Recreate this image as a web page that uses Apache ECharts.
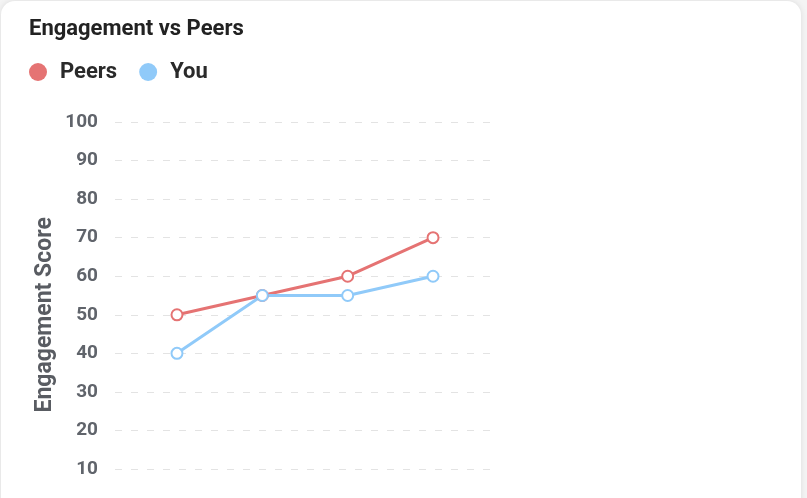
<!doctype html>
<html lang="en">
<head>
    <meta charset="UTF-8">
    <title>Engagement vs Peers</title>
    <script src="https://cdn.jsdelivr.net/npm/echarts@6/dist/echarts.min.js"></script>
    <style>
        html, body {margin: 0; padding: 0; overflow: hidden; background: #f4f4f4;}
        .card {position: absolute; left: 1px; top: 1px; width: 800px; height: 600px; background: #fff;
            border-radius: 14px; box-shadow: 0 0 6px rgba(0, 0, 0, 0.10);}
        #main {position: absolute; left: 0; top: 0; width: 807px; height: 560px;}
    </style>
</head>
<body>
<div class="card"></div>
<div id="main"></div>
<script type="text/javascript">
    // data
    var categories = ['Q1', 'Q2', 'Q3', 'Q4'];
    var peers = [50, 55, 60, 70];
    var you = [40, 55, 55, 60];
    var yTicks = {min: 0, max: 100, step: 10};

    var myChart = echarts.init(document.getElementById('main'));

    var font = 'Roboto, "Noto Sans", sans-serif';
    var labelGray = '#60646b';

    option = {
        animation: false,
        textStyle: {fontFamily: font},
        title: {
            text: 'Engagement vs Peers',
            left: 29,
            top: 18,
            padding: 0,
            textStyle: {fontFamily: font, fontSize: 22, fontWeight: 'bold', color: '#222'}
        },
        legend: {
            left: 29,
            top: 61,
            padding: 0,
            icon: 'circle',
            itemWidth: 34,
            itemHeight: 18,
            itemGap: 22,
            textStyle: {fontFamily: font, fontSize: 22, fontWeight: 'bold', color: '#2a2a2a'},
            data: ['Peers', 'You']
        },
        grid: [
            // the dashed score grid
            {left: 115, right: 317, top: 122, bottom: 52.4},
            // the lines, centred in their bands
            {left: 134.3, right: 331.3, top: 122, bottom: 52.4}
        ],
        xAxis: [
            {type: 'category', gridIndex: 0, data: categories, show: false},
            {
                type: 'category', gridIndex: 1, data: categories, boundaryGap: true,
                axisLine: {show: false}, axisTick: {show: false}, axisLabel: {show: false}
            }
        ],
        yAxis: [
            {
                type: 'value',
                gridIndex: 0,
                min: yTicks.min,
                max: yTicks.max,
                interval: yTicks.step,
                name: 'Engagement Score',
                nameLocation: 'middle',
                nameGap: 58,
                nameRotate: 90,
                nameTextStyle: {fontFamily: font, fontSize: 23, fontWeight: 'bold', color: '#595c62'},
                axisLine: {show: false},
                axisTick: {show: false},
                axisLabel: {margin: 17, fontFamily: font, fontSize: 19, fontWeight: 'bold', color: labelGray},
                splitLine: {lineStyle: {color: '#e3e3e3', width: 1, type: [7, 9]}}
            },
            {
                type: 'value', gridIndex: 1, min: yTicks.min, max: yTicks.max, interval: yTicks.step,
                show: false, splitLine: {show: false}
            }
        ],
        series: [
            {
                name: 'Peers',
                type: 'line',
                xAxisIndex: 1,
                yAxisIndex: 1,
                data: peers,
                symbol: 'emptyCircle',
                symbolSize: 11,
                color: '#e57373',
                lineStyle: {width: 3, color: '#e57373'},
                itemStyle: {color: '#e57373', borderWidth: 2.5}
            },
            {
                name: 'You',
                type: 'line',
                xAxisIndex: 1,
                yAxisIndex: 1,
                data: you,
                symbol: 'emptyCircle',
                symbolSize: 11,
                color: '#90caf9',
                lineStyle: {width: 3, color: '#90caf9'},
                itemStyle: {color: '#90caf9', borderWidth: 2.5}
            }
        ]
    };

    myChart.setOption(option);
</script>
</body>
</html>
